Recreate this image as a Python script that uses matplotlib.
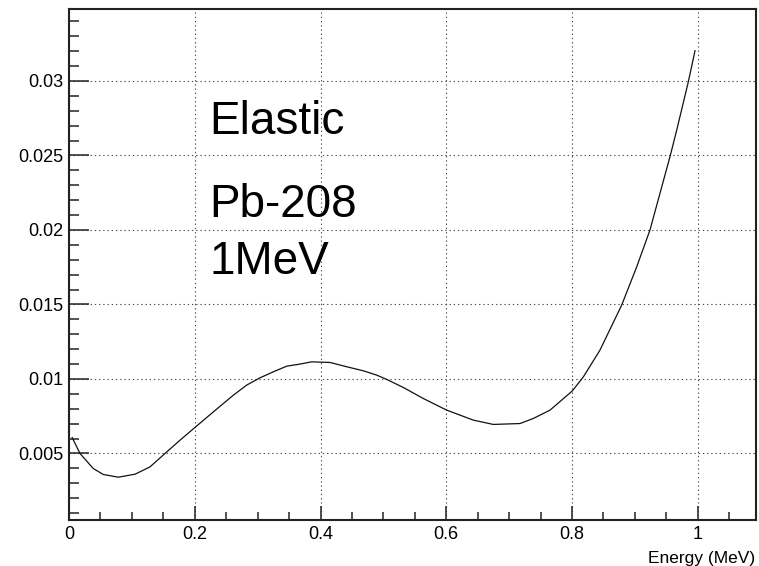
import matplotlib
matplotlib.use("Agg")
import matplotlib.pyplot as plt
from matplotlib.ticker import MultipleLocator, FuncFormatter

plt.rcParams['font.family'] = ['Liberation Sans', 'DejaVu Sans']

# values
energy = [0.005, 0.0175, 0.0386, 0.0546, 0.0784, 0.105, 0.1288, 0.1527, 0.1765, 0.2004,
          0.2295, 0.2613, 0.2826, 0.3038, 0.3249, 0.3462, 0.3674, 0.386, 0.4151, 0.4417,
          0.4681, 0.4894, 0.5053, 0.5317, 0.5635, 0.6007, 0.643, 0.6748, 0.7173, 0.7384,
          0.765, 0.8005, 0.818, 0.8445, 0.879, 0.9029, 0.924, 0.9558, 0.9665, 0.985, 0.9956]
xsec = [0.00607, 0.0050, 0.00399, 0.00359, 0.00341, 0.00361, 0.0041, 0.0050, 0.00589, 0.00675,
        0.00779, 0.00891, 0.00959, 0.01008, 0.01048, 0.01086, 0.0110, 0.01115, 0.01111, 0.01082,
        0.01055, 0.01026, 0.00997, 0.00943, 0.00869, 0.00791, 0.00724, 0.00695, 0.00701, 0.00735,
        0.00791, 0.0092, 0.01014, 0.01194, 0.01496, 0.01753, 0.0200, 0.02492, 0.0267, 0.02995, 0.03203]

labels = ["Elastic", "Pb-208", "1MeV"]
label_y = [0.02642, 0.02087, 0.01706]

fig = plt.figure(figsize=(7.59, 5.66), dpi=100)
ax = fig.add_axes([69/759, 1 - 519.5/566, (756 - 69)/759, (519.5 - 9)/566])

ax.plot(energy, xsec, color='#111111', lw=0.9)

ax.set_xlim(0, 1.0926)
ax.set_ylim(0.00057, 0.03483)

ax.xaxis.set_major_locator(MultipleLocator(0.2))
ax.xaxis.set_minor_locator(MultipleLocator(0.05))
ax.yaxis.set_major_locator(MultipleLocator(0.005))
ax.yaxis.set_minor_locator(MultipleLocator(0.001))
ax.xaxis.set_major_formatter(FuncFormatter(lambda v, p: "%g" % round(v, 4)))
ax.yaxis.set_major_formatter(FuncFormatter(lambda v, p: "%g" % round(v, 5)))

ax.grid(True, which='major', color='0.3', lw=0.8, linestyle=(0, (1.2, 2.6)))

for s in ax.spines.values():
    s.set_linewidth(1.5)
    s.set_color('#222222')

ax.tick_params(axis='both', which='both', direction='in', top=False, right=False,
               width=1.1, color='#222222', labelsize=13)
ax.tick_params(axis='x', which='major', length=10, pad=5)
ax.tick_params(axis='x', which='minor', length=5.5)
ax.tick_params(axis='y', which='major', length=14.5, pad=4)
ax.tick_params(axis='y', which='minor', length=7.5)

for t, yv in zip(labels, label_y):
    ax.text(0.2227, yv, t, fontsize=33, va='baseline', ha='left')

fig.text(755/759, 1 - 562.5/566, "Energy (MeV)", fontsize=12.5, ha='right', va='baseline')

fig.savefig("out.png", dpi=100)
